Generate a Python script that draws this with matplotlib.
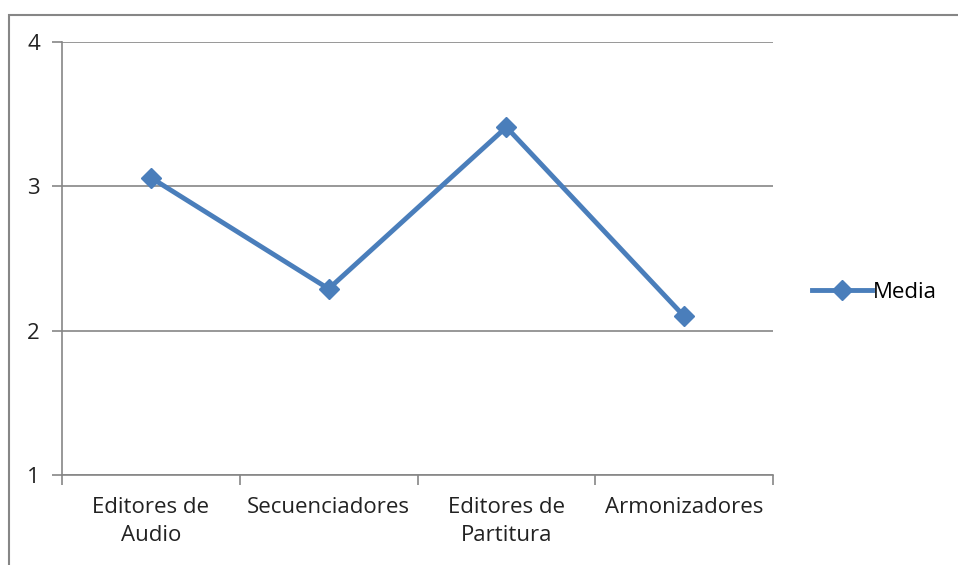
import matplotlib
matplotlib.use("Agg")
import matplotlib.pyplot as plt
from matplotlib.patches import Rectangle
from matplotlib.lines import Line2D

plt.rcParams["font.family"] = ["Open Sans", "DejaVu Sans"]

# ---------------------- 数据 ----------------------
categorias = ["Editores de\nAudio", "Secuenciadores", "Editores de\nPartitura", "Armonizadores"]
media = [3.06, 2.29, 3.41, 2.10]
y_ticks = [1, 2, 3, 4]

azul = "#4A7EBB"
gris = "#868686"
texto = "#222222"
fs = 16

fig = plt.figure(figsize=(9.58, 5.65), dpi=100)
W, H = 958, 565

# marco exterior del gráfico
fig.patches.append(Rectangle((9 / W, -0.1), 1.2, 1 - 15 / H + 0.1, transform=fig.transFigure,
                             fill=False, edgecolor=gris, linewidth=1.5))

ax = fig.add_axes([62 / W, 1 - 475 / H, (773 - 62) / W, (475 - 42) / H])

x = list(range(len(categorias)))
ax.plot(x, media, color=azul, linewidth=3.5, marker="D", markersize=10,
        markerfacecolor=azul, markeredgecolor=azul, clip_on=False)

ax.set_xlim(-0.5, len(categorias) - 0.5)
ax.set_ylim(1, 4)
ax.set_yticks(y_ticks)
ax.set_xticks(x)
ax.set_xticklabels(categorias, linespacing=1.45)
ax.set_xticks([i - 0.5 for i in range(len(categorias) + 1)], minor=True)

ax.yaxis.grid(True, color=gris, linewidth=1.2)
ax.set_axisbelow(True)
for s in ["top", "right"]:
    ax.spines[s].set_visible(False)
for s in ["left", "bottom"]:
    ax.spines[s].set_color(gris)
    ax.spines[s].set_linewidth(1.2)

ax.tick_params(axis="y", length=7, width=1.2, color=gris, labelsize=fs, pad=9, labelcolor=texto)
ax.tick_params(axis="x", which="major", length=0, labelsize=fs, pad=16, labelcolor=texto)
ax.tick_params(axis="x", which="minor", length=7, width=1.2, color=gris)

leyenda = [Line2D([0], [0], color=azul, linewidth=3.5, marker="D", markersize=10)]
fig.legend(leyenda, ["Media"], loc="center left", bbox_to_anchor=(812 / W, 1 - 292 / H),
           frameon=False, fontsize=fs, handlelength=2.7, handletextpad=0.05,
           borderpad=0, borderaxespad=0)

plt.savefig("out.png", dpi=100)
